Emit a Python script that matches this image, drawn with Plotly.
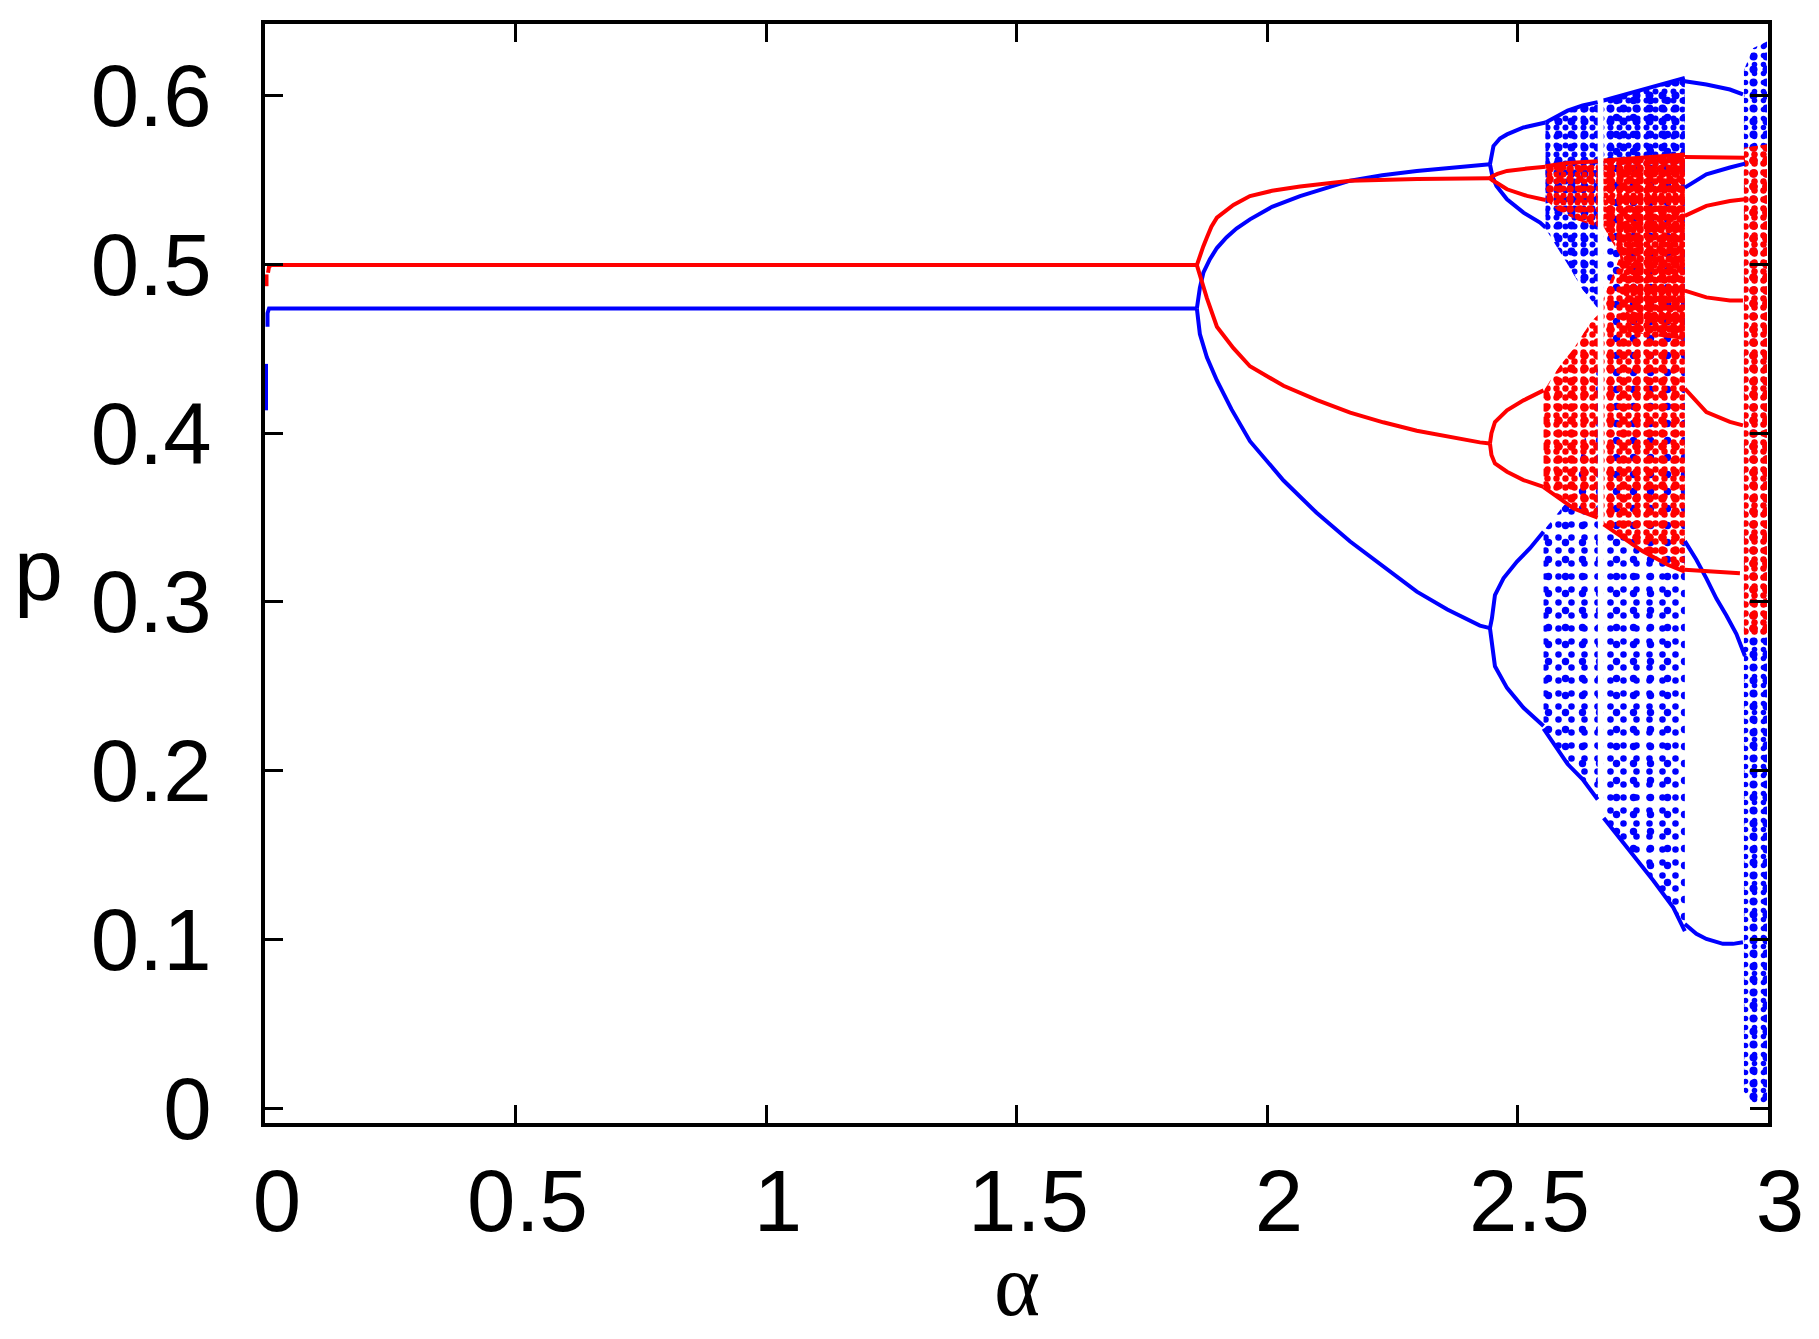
import plotly.graph_objects as go

BLUE = "#0000ff"
RED = "#ff0000"

tick_x = [0, 0.5, 1, 1.5, 2, 2.5, 3]
tick_x_text = ["0", "0.5", "1", "1.5", "2", "2.5", "3"]
tick_y = [0, 0.1, 0.2, 0.3, 0.4, 0.5, 0.6]
tick_y_text = ["0", "0.1", "0.2", "0.3", "0.4", "0.5", "0.6"]

# ---- blue branches (alpha, p) ----
blue_a0 = [0.002, 0.002]
blue_p0 = [0.4135, 0.441]
blue_flat_a = [0.005, 0.005, 0.008, 1.860]
blue_flat_p = [0.463, 0.471, 0.4738, 0.4738]
blue_up1_a = [1.860, 1.863, 1.866, 1.873, 1.886, 1.900, 1.919, 1.939, 1.966, 2.010, 2.066, 2.166, 2.230, 2.299, 2.425, 2.445]
blue_up1_p = [0.4738, 0.480, 0.486, 0.495, 0.503, 0.5096, 0.5159, 0.5212, 0.5266, 0.534, 0.5404, 0.5495, 0.5527, 0.5552, 0.5588, 0.5592]
blue_low1_a = [1.860, 1.863, 1.866, 1.880, 1.900, 1.929, 1.966, 2.033, 2.099, 2.166, 2.232, 2.299, 2.360, 2.425, 2.445]
blue_low1_p = [0.4738, 0.466, 0.4587, 0.4449, 0.4312, 0.4142, 0.3952, 0.3719, 0.3528, 0.3358, 0.3209, 0.3061, 0.2955, 0.2860, 0.2845]
blue_a2_a = [2.445, 2.448, 2.452, 2.465, 2.479, 2.512, 2.535, 2.556]
blue_a2_p = [0.5592, 0.565, 0.5700, 0.5745, 0.5769, 0.5810, 0.5828, 0.5840]
blue_b2_a = [2.445, 2.450, 2.458, 2.479, 2.512, 2.545, 2.556]
blue_b2_p = [0.5592, 0.552, 0.5464, 0.5385, 0.5306, 0.5247, 0.5218]
blue_c2_a = [2.445, 2.449, 2.455, 2.472, 2.499, 2.525, 2.552]
blue_c2_p = [0.2845, 0.2904, 0.3041, 0.3140, 0.3239, 0.3318, 0.3416]
blue_d2_a = [2.445, 2.448, 2.455, 2.479, 2.512, 2.552]
blue_d2_p = [0.2845, 0.2767, 0.2619, 0.2491, 0.2373, 0.2265]
blue_w1_a = [2.834, 2.877, 2.924, 2.950]
blue_w1_p = [0.6084, 0.6065, 0.6035, 0.6006]
blue_w2_a = [2.834, 2.877, 2.924, 2.954]
blue_w2_p = [0.5454, 0.5533, 0.5573, 0.5596]
blue_w3_a = [2.834, 2.857, 2.877, 2.897, 2.917, 2.937, 2.954]
blue_w3_p = [0.336, 0.325, 0.314, 0.302, 0.292, 0.281, 0.268]
blue_w4_a = [2.834, 2.857, 2.877, 2.910, 2.930, 2.950]
blue_w4_p = [0.1093, 0.1035, 0.1004, 0.0975, 0.0975, 0.0985]

# ---- red branches ----
red_a0 = [0.003, 0.003]
red_p0 = [0.487, 0.494]
red_flat_a = [0.006, 0.008, 0.012, 1.860]
red_flat_p = [0.495, 0.4985, 0.4995, 0.4995]
red_up1_a = [1.860, 1.863, 1.866, 1.873, 1.880, 1.889, 1.900, 1.933, 1.966, 2.010, 2.066, 2.166, 2.300, 2.425, 2.445]
red_up1_p = [0.4995, 0.5025, 0.5050, 0.5107, 0.5159, 0.5223, 0.5276, 0.5351, 0.5404, 0.5435, 0.5460, 0.5495, 0.5505, 0.5509, 0.5510]
red_low1_a = [1.860, 1.863, 1.866, 1.873, 1.880, 1.900, 1.933, 1.966, 2.033, 2.100, 2.166, 2.232, 2.299, 2.425, 2.445]
red_low1_p = [0.4995, 0.4965, 0.4937, 0.4863, 0.4799, 0.4630, 0.4503, 0.4396, 0.4280, 0.4195, 0.4121, 0.4064, 0.4014, 0.3945, 0.3938]
red_a2_a = [2.445, 2.450, 2.460, 2.479, 2.519, 2.556]
red_a2_p = [0.5510, 0.5522, 0.5535, 0.5553, 0.5567, 0.5578]
red_b2_a = [2.445, 2.450, 2.460, 2.479, 2.519, 2.556]
red_b2_p = [0.5510, 0.5497, 0.5480, 0.5444, 0.5405, 0.5381]
red_c2_a = [2.445, 2.448, 2.455, 2.479, 2.512, 2.552]
red_c2_p = [0.3938, 0.400, 0.4066, 0.4135, 0.4194, 0.4253]
red_d2_a = [2.445, 2.448, 2.455, 2.479, 2.512, 2.552]
red_d2_p = [0.3938, 0.387, 0.3820, 0.3771, 0.3722, 0.3682]
red_w1_a = [2.834, 2.954]
red_w1_p = [0.5635, 0.5631]
red_w2_a = [2.834, 2.877, 2.924, 2.954]
red_w2_p = [0.5287, 0.5346, 0.5375, 0.5385]
red_w3_a = [2.834, 2.877, 2.924, 2.950]
red_w3_p = [0.4844, 0.4804, 0.4785, 0.4785]
red_w4_a = [2.834, 2.877, 2.924, 2.950]
red_w4_p = [0.4263, 0.4125, 0.4066, 0.4046]
red_w5_a = [2.834, 2.877, 2.944]
red_w5_p = [0.3190, 0.3180, 0.3170]

# ---- chaotic bands (outline of the scattered clouds) ----
blue_cl1_a = [2.556, 2.600, 2.630, 2.660, 2.660, 2.630, 2.600, 2.556]
blue_cl1_p = [0.584, 0.591, 0.594, 0.596, 0.474, 0.485, 0.500, 0.521]
blue_cl2_a = [2.552, 2.600, 2.630, 2.660, 2.660, 2.630, 2.600, 2.552]
blue_cl2_p = [0.342, 0.360, 0.390, 0.440, 0.183, 0.195, 0.204, 0.225]
blue_cl3_a = [2.672, 2.750, 2.834, 2.834, 2.811, 2.771, 2.718, 2.672]
blue_cl3_p = [0.597, 0.6035, 0.6104, 0.105, 0.119, 0.135, 0.155, 0.172]
blue_cl4_a = [2.952, 2.970, 2.998, 2.998, 2.970, 2.952]
blue_cl4_p = [0.615, 0.628, 0.632, 0.003, 0.003, 0.010]
blue_cl5_a = [2.672, 2.750, 2.834, 2.834, 2.672]
blue_cl5_p = [0.597, 0.6035, 0.6104, 0.555, 0.555]

red_cl1_a = [2.556, 2.600, 2.660, 2.660, 2.620, 2.580, 2.556]
red_cl1_p = [0.558, 0.560, 0.561, 0.522, 0.526, 0.532, 0.538]
red_cl2_a = [2.552, 2.585, 2.612, 2.645, 2.660, 2.660, 2.612, 2.552]
red_cl2_p = [0.425, 0.440, 0.450, 0.465, 0.470, 0.350, 0.3554, 0.368]
red_cl3_a = [2.672, 2.750, 2.834, 2.834, 2.800, 2.750, 2.700, 2.672, 2.672, 2.705, 2.672]
red_cl3_p = [0.5615, 0.563, 0.565, 0.318, 0.322, 0.330, 0.340, 0.346, 0.480, 0.505, 0.522]
red_cl4_a = [2.672, 2.834, 2.834, 2.720, 2.705, 2.672]
red_cl4_p = [0.5615, 0.565, 0.455, 0.460, 0.505, 0.522]
red_cl5_a = [2.952, 2.998, 2.998, 2.952]
red_cl5_p = [0.569, 0.571, 0.280, 0.280]

fig = go.Figure()


def cloud(a, p, color, layers):
    # overlapping dot patterns of different pitch, so the cloud looks less regular
    for size, solidity in layers:
        fig.add_trace(go.Scatter(
            x=a + a[:1], y=p + p[:1], mode="lines", fill="toself",
            line=dict(width=0, color=color), fillcolor="rgba(0,0,0,0)",
            fillpattern=dict(shape=".", fgcolor=color, bgcolor="rgba(0,0,0,0)",
                             size=size, solidity=solidity, fillmode="replace"),
            hoverinfo="skip", showlegend=False))


def branch(a, p, color):
    fig.add_trace(go.Scatter(
        x=a, y=p, mode="lines", line=dict(color=color, width=4),
        showlegend=False))


cloud(blue_cl1_a, blue_cl1_p, BLUE, [(9, 0.35), (13, 0.3)])
cloud(blue_cl2_a, blue_cl2_p, BLUE, [(13, 0.2), (17, 0.15)])
cloud(blue_cl3_a, blue_cl3_p, BLUE, [(13, 0.2), (17, 0.15)])
cloud(blue_cl5_a, blue_cl5_p, BLUE, [(9, 0.35), (13, 0.3)])
cloud(blue_cl4_a, blue_cl4_p, BLUE, [(9, 0.3), (13, 0.3)])

cloud(red_cl1_a, red_cl1_p, RED, [(7, 0.55), (10, 0.45)])
cloud(red_cl2_a, red_cl2_p, RED, [(9, 0.4), (13, 0.35)])
cloud(red_cl3_a, red_cl3_p, RED, [(9, 0.4), (13, 0.35)])
cloud(red_cl4_a, red_cl4_p, RED, [(7, 0.55), (10, 0.45)])
cloud(red_cl5_a, red_cl5_p, RED, [(9, 0.4), (13, 0.35)])

for a, p in [(blue_a0, blue_p0), (blue_flat_a, blue_flat_p), (blue_up1_a, blue_up1_p),
             (blue_low1_a, blue_low1_p), (blue_a2_a, blue_a2_p), (blue_b2_a, blue_b2_p),
             (blue_c2_a, blue_c2_p), (blue_d2_a, blue_d2_p), (blue_w1_a, blue_w1_p),
             (blue_w2_a, blue_w2_p), (blue_w3_a, blue_w3_p), (blue_w4_a, blue_w4_p),
             (blue_cl3_a[3:], blue_cl3_p[3:]), (blue_cl2_a[4:], blue_cl2_p[4:]),
             (blue_cl1_a[:4], blue_cl1_p[:4]), (blue_cl3_a[:3], blue_cl3_p[:3])]:
    branch(a, p, BLUE)

for a, p in [(red_a0, red_p0), (red_flat_a, red_flat_p), (red_up1_a, red_up1_p),
             (red_low1_a, red_low1_p), (red_a2_a, red_a2_p), (red_b2_a, red_b2_p),
             (red_c2_a, red_c2_p), (red_d2_a, red_d2_p), (red_w1_a, red_w1_p),
             (red_w2_a, red_w2_p), (red_w3_a, red_w3_p), (red_w4_a, red_w4_p),
             (red_w5_a, red_w5_p), (red_cl3_a[3:8], red_cl3_p[3:8]),
             (red_cl2_a[5:], red_cl2_p[5:]), (red_cl1_a[:3], red_cl1_p[:3]),
             (red_cl3_a[:3], red_cl3_p[:3])]:
    branch(a, p, RED)

axis_style = dict(
    showline=True, linecolor="black", linewidth=4, mirror="ticks",
    ticks="inside", ticklen=18, tickwidth=3, tickcolor="black",
    showgrid=False, zeroline=False,
    tickfont=dict(family="Liberation Sans", size=87, color="black"),
)

fig.update_xaxes(range=[0, 3], tickvals=tick_x, ticktext=tick_x_text,
                 ticklabelshift=12, **axis_style)
fig.update_yaxes(range=[-0.0086, 0.6423], tickvals=tick_y, ticktext=tick_y_text,
                 ticklabelstandoff=32, **axis_style)

fig.add_annotation(text="p", xref="paper", yref="paper", x=-0.1504, y=0.5035,
                   showarrow=False, xanchor="center", yanchor="middle",
                   font=dict(family="Liberation Sans", size=88, color="black"))
fig.add_annotation(text="α", xref="paper", yref="paper", x=0.5003, y=-0.1935,
                   showarrow=False, xanchor="center", yanchor="bottom",
                   font=dict(family="Liberation Serif", size=88, color="black"))

fig.update_layout(
    width=1811, height=1331,
    margin=dict(l=257, r=51, t=13, b=216),
    paper_bgcolor="white", plot_bgcolor="white",
)

fig.write_html("out.html")
